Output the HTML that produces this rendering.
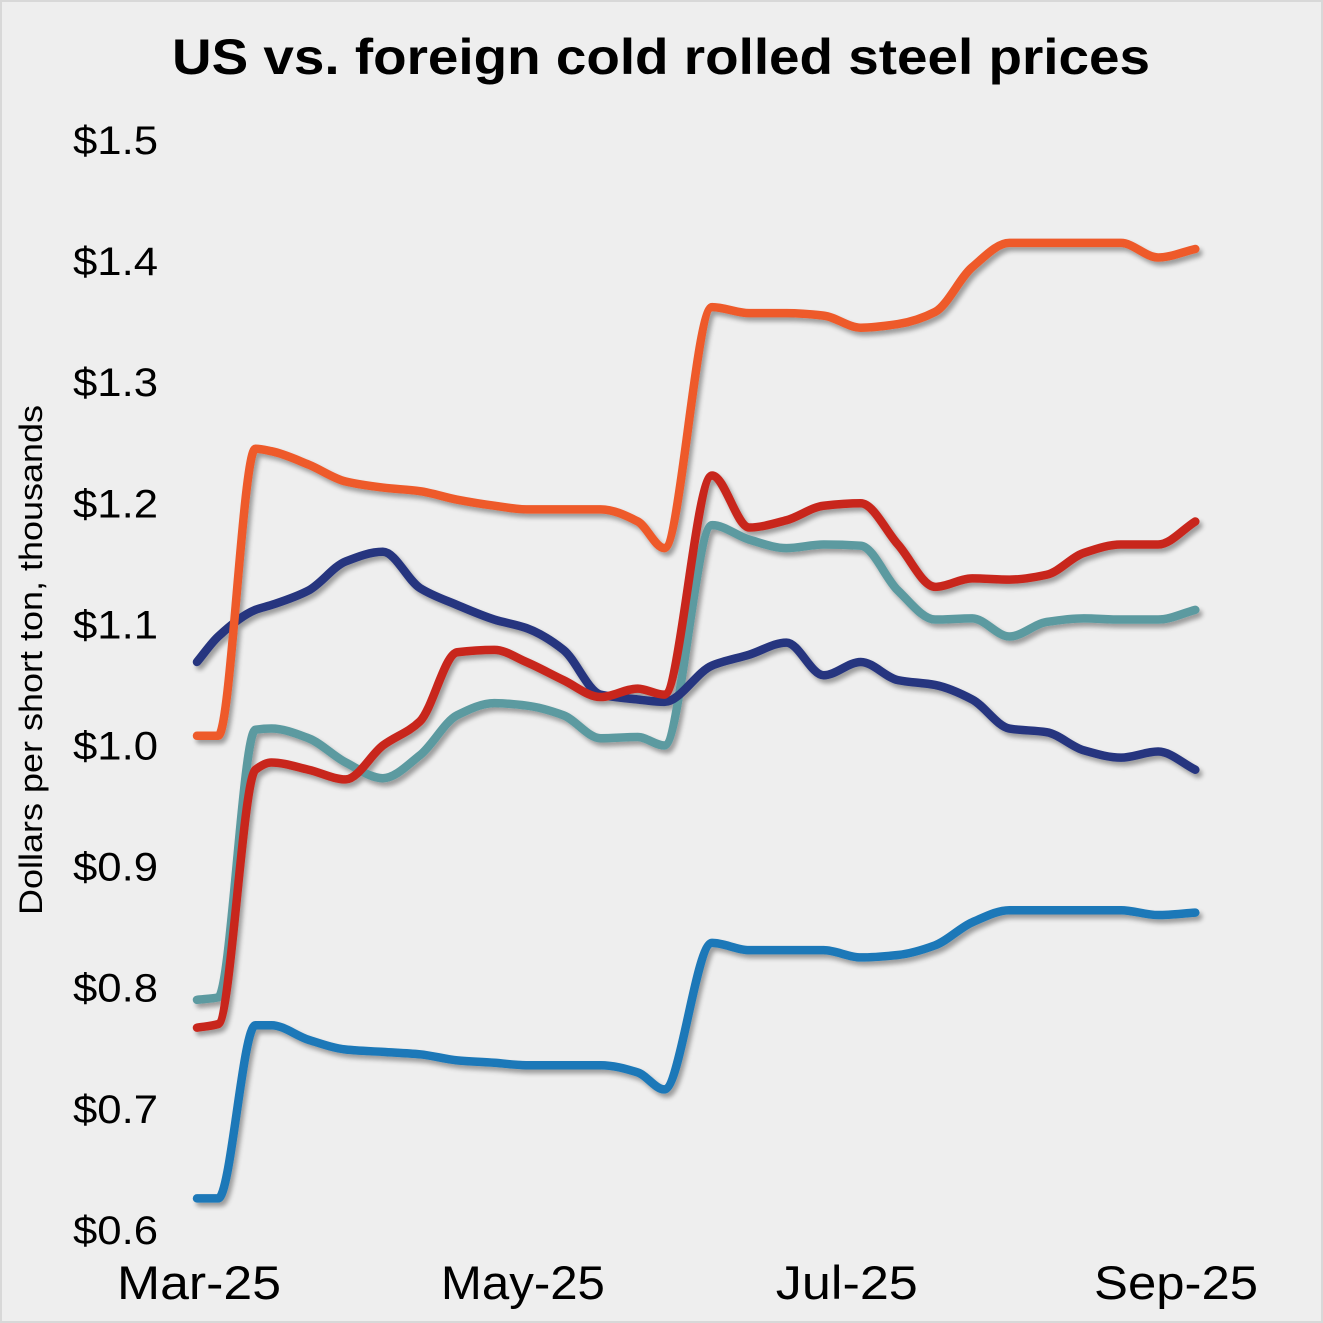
<!DOCTYPE html>
<html><head><meta charset="utf-8">
<style>
html,body{margin:0;padding:0;background:#fff;}
svg{display:block;}
text{font-family:"Liberation Sans",Helvetica,Arial,sans-serif;}
</style></head>
<body>
<svg id="chart" width="1323" height="1323" viewBox="0 0 1323 1323">
<defs>
<filter id="sh" x="-10%" y="-10%" width="120%" height="120%">
<feGaussianBlur in="SourceAlpha" stdDeviation="2.5"/>
<feOffset dx="3" dy="4" result="o"/>
<feComponentTransfer><feFuncA type="linear" slope="0.35"/></feComponentTransfer>
<feMerge><feMergeNode/><feMergeNode in="SourceGraphic"/></feMerge>
</filter>
</defs>
<rect x="1" y="1" width="1321" height="1321" fill="#eeeeee" stroke="#d8d8d8" stroke-width="2"/>
<text x="172" y="74" textLength="978" lengthAdjust="spacingAndGlyphs" font-size="50" font-weight="bold" fill="#000">US vs. foreign cold rolled steel prices</text>
<text transform="translate(42,915) rotate(-90)" textLength="510" lengthAdjust="spacingAndGlyphs" font-size="32" fill="#000">Dollars per short ton, thousands</text>
<g id="yticks"></g>
<g id="xticks"></g>
<g id="series" filter="url(#sh)"></g>
</svg>
<script>
const days = [0,4,11,14,21,28,35,42,49,56,62,69,76,83,88,97,104,111,118,125,132,139,146,153,160,167,174,181,188];
const orangeSeries = [1.008,1.008,1.245,1.243,1.232,1.218,1.213,1.210,1.203,1.198,1.195,1.195,1.195,1.185,1.163,1.362,1.357,1.357,1.355,1.345,1.348,1.358,1.395,1.415,1.415,1.415,1.415,1.403,1.410];
const navySeries = [1.069,1.090,1.112,1.116,1.128,1.152,1.160,1.130,1.116,1.104,1.097,1.079,1.042,1.038,1.036,1.066,1.075,1.085,1.058,1.069,1.054,1.050,1.038,1.014,1.011,0.996,0.990,0.995,0.980];
const redSeries = [0.767,0.770,0.980,0.986,0.980,0.972,1.000,1.020,1.077,1.079,1.069,1.054,1.040,1.047,1.042,1.223,1.180,1.186,1.198,1.200,1.166,1.131,1.138,1.137,1.141,1.159,1.166,1.166,1.185];
const tealSeries = [0.790,0.792,1.013,1.014,1.006,0.986,0.973,0.992,1.025,1.035,1.033,1.025,1.006,1.007,1.000,1.182,1.170,1.163,1.166,1.165,1.128,1.104,1.105,1.090,1.102,1.105,1.104,1.104,1.112];
const blueSeries = [0.626,0.626,0.769,0.769,0.757,0.749,0.747,0.745,0.740,0.738,0.736,0.736,0.736,0.730,0.716,0.837,0.831,0.831,0.831,0.825,0.827,0.835,0.854,0.864,0.864,0.864,0.864,0.860,0.862];
const yTickValues = [0.6,0.7,0.8,0.9,1.0,1.1,1.2,1.3,1.4,1.5];
const xTickLabels = ["Mar-25","May-25","Jul-25","Sep-25"];
const xTickDays = [0,61,122,184];

const NS = "http://www.w3.org/2000/svg";
function xs(d){ return 197 + d * 5.31; }
function ys(v){ return 140 + (1.5 - v) * 1211; }

const yt = document.getElementById('yticks');
yTickValues.forEach(v => {
  const t = document.createElementNS(NS,'text');
  t.setAttribute('x', 73);
  t.setAttribute('y', ys(v) + 14);
  t.setAttribute('font-size', '40');
  t.setAttribute('textLength', '85');
  t.setAttribute('lengthAdjust', 'spacingAndGlyphs');
  t.textContent = '$' + v.toFixed(1);
  
  
  yt.appendChild(t);
});
const xt = document.getElementById('xticks');
xTickLabels.forEach((lab, i) => {
  const t = document.createElementNS(NS,'text');
  t.setAttribute('x', xs(xTickDays[i]) + 2);
  t.setAttribute('y', 1299);
  t.setAttribute('text-anchor', 'middle');
  t.setAttribute('font-size', '47');
  t.setAttribute('textLength', lab.length === 6 && lab[0]==='J' ? 142 : 164);
  t.setAttribute('lengthAdjust', 'spacingAndGlyphs');
  t.textContent = lab;
  
  
  xt.appendChild(t);
});

function pathFor(vals){
  const p = vals.map((v,i)=>[xs(days[i]), ys(v)]);
  const n = p.length;
  const dx=[], s=[];
  for(let i=0;i<n-1;i++){ dx.push(p[i+1][0]-p[i][0]); s.push((p[i+1][1]-p[i][1])/dx[i]); }
  const m=[s[0]];
  for(let i=1;i<n-1;i++){
    if(s[i-1]*s[i]<=0) m.push(0);
    else { const w1=2*dx[i]+dx[i-1], w2=dx[i]+2*dx[i-1]; m.push((w1+w2)/(w1/s[i-1]+w2/s[i])); }
  }
  m.push(s[n-2]);
  let d = 'M' + p[0][0] + ',' + p[0][1];
  for(let i=0;i<n-1;i++){
    const h=dx[i]/3;
    d += ' C'+(p[i][0]+h)+','+(p[i][1]+m[i]*h)+' '+(p[i+1][0]-h)+','+(p[i+1][1]-m[i+1]*h)+' '+p[i+1][0]+','+p[i+1][1];
  }
  return d;
}
const g = document.getElementById('series');
function addLine(vals, color, name){
  const path = document.createElementNS(NS,'path');
  path.setAttribute('d', pathFor(vals));
  path.setAttribute('fill','none');
  path.setAttribute('stroke', color);
  path.setAttribute('stroke-width','8.5');
  path.setAttribute('stroke-linecap','round');
  path.setAttribute('stroke-linejoin','round');
  
  
  g.appendChild(path);
}
addLine(blueSeries, '#1a78b8', 'blue-series-line');
addLine(tealSeries, '#5b9aa0', 'teal-series-line');
addLine(navySeries, '#25347f', 'navy-series-line');
addLine(redSeries, '#c8281e', 'red-series-line');
addLine(orangeSeries, '#ee5a2a', 'orange-series-line');
</script>
</body></html>
